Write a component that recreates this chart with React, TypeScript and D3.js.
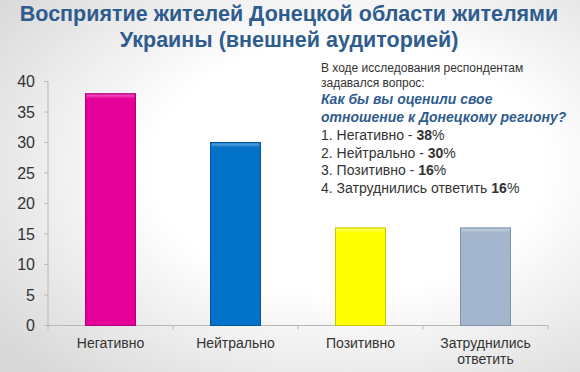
import { useMemo } from 'react'
import * as d3 from 'd3'

const W = 580
const H = 372

const categories = ['Негативно', 'Нейтрально', 'Позитивно', 'Затруднились ответить']
const values = [38, 30, 16, 16]
const barColors = ['#E5009A', '#0272C9', '#FFFF00', '#A4B6CD']
const barStrokes = ['#B0007A', '#0256A0', '#C8C800', '#7F93AD']
const yTicks = [0, 5, 10, 15, 20, 25, 30, 35, 40]

const titleLines = ['Восприятие жителей Донецкой области жителями', 'Украины (внешней аудиторией)']
const introLines = ['В ходе исследования респондентам', 'задавался вопрос:']
const questionLines = ['Как бы вы оценили свое', 'отношение к Донецкому региону?']
const answerLines = [
  { text: '1. Негативно - ', pct: '38', tail: '%' },
  { text: '2. Нейтрально - ', pct: '30', tail: '%' },
  { text: '3. Позитивно - ', pct: '16', tail: '%' },
  { text: '4. Затруднились ответить ', pct: '16', tail: '%' },
]

const FONT = 'Arial, "Liberation Sans", sans-serif'

export default function App() {
  const x = useMemo(
    () => d3.scaleBand<string>().domain(categories).range([48, 548]).paddingInner(0.6).paddingOuter(0.3),
    []
  )
  const y = useMemo(() => d3.scaleLinear().domain([0, 40]).range([325.5, 81.5]), [])

  // band boundaries for category ticks
  const step = x.step()
  const bandEdges = d3.range(categories.length + 1).map((i) => 48 + i * step)

  return (
    <svg width={W} height={H} style={{ position: 'absolute', left: 0, top: 0 }} fontFamily={FONT}>
      <defs>
        <radialGradient id="bg" cx="0.6" cy="0.45" r="0.75">
          <stop offset="0.45" stopColor="#ffffff" />
          <stop offset="1" stopColor="#d9d9d9" />
        </radialGradient>
        <linearGradient id="shine" x1="0" x2="0" y1="0" y2="1">
          <stop offset="0" stopColor="#ffffff" stopOpacity={0.35} />
          <stop offset="1" stopColor="#ffffff" stopOpacity={0} />
        </linearGradient>
      </defs>
      <rect width={W} height={H} fill="url(#bg)" />

      {/* Title */}
      {titleLines.map((t, i) => (
        <text key={i} x={289} y={21 + i * 26} textAnchor="middle" fontSize={21.5} fontWeight="bold" fill="#2F5C8E">
          {t}
        </text>
      ))}

      {/* Axes */}
      <line x1={48} x2={48} y1={y(40)} y2={y(0)} stroke="#B8B8B8" />
      <line x1={44} x2={548} y1={y(0)} y2={y(0)} stroke="#B8B8B8" />
      {yTicks.map((t) => (
        <g key={t}>
          <line x1={44} x2={48} y1={y(t)} y2={y(t)} stroke="#B8B8B8" />
          <text x={35} y={y(t) + 5.5} textAnchor="end" fontSize={16} fill="#333">
            {t}
          </text>
        </g>
      ))}
      {bandEdges.map((bx, i) => (
        <line key={i} x1={bx} x2={bx} y1={y(0)} y2={y(0) + 4} stroke="#B8B8B8" />
      ))}

      {/* Bars */}
      {categories.map((c, i) => {
        const bx = x(c) as number
        const by = y(values[i])
        const bh = y(0) - by
        return (
          <g key={c}>
            <rect x={bx} y={by} width={x.bandwidth()} height={bh} fill={barColors[i]} stroke={barStrokes[i]} strokeWidth={1} />
            <rect x={bx + 1} y={by + 1} width={x.bandwidth() - 2} height={4} fill="url(#shine)" />
          </g>
        )
      })}

      {/* Category labels */}
      {categories.map((c) => {
        const cx = (x(c) as number) + x.bandwidth() / 2
        const words = c === 'Затруднились ответить' ? ['Затруднились', 'ответить'] : [c]
        return (
          <text key={c} x={cx} y={348} textAnchor="middle" fontSize={14} fill="#333">
            {words.map((w, k) => (
              <tspan key={k} x={cx} dy={k === 0 ? 0 : 16}>
                {w}
              </tspan>
            ))}
          </text>
        )
      })}

      {/* Annotation */}
      {introLines.map((t, i) => (
        <text key={t} x={321} y={72 + i * 15} fontSize={12} fill="#333">
          {t}
        </text>
      ))}
      {questionLines.map((t, i) => (
        <text key={t} x={321} y={104 + i * 18} fontSize={14} fontWeight="bold" fontStyle="italic" fill="#2F5C8E">
          {t}
        </text>
      ))}
      {answerLines.map((a, i) => (
        <text key={i} x={321} y={140 + i * 17.5} fontSize={14} fill="#333">
          {a.text}
          <tspan fontWeight="bold">{a.pct}</tspan>
          {a.tail}
        </text>
      ))}
    </svg>
  )
}
